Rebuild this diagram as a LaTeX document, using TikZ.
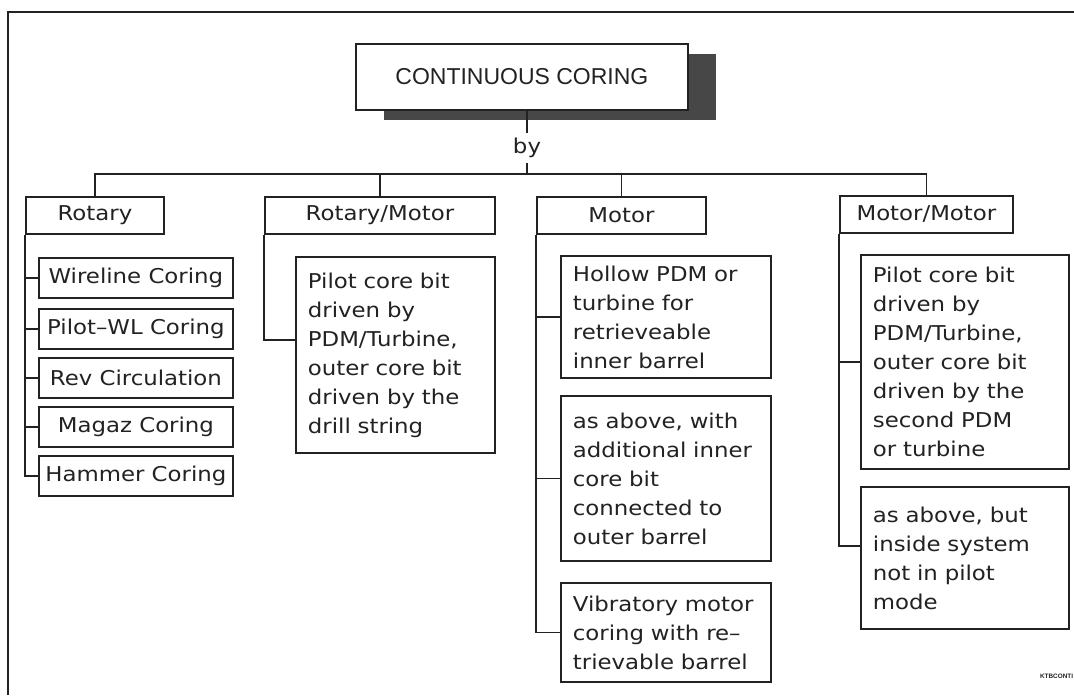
\documentclass[tikz,border=0pt]{standalone}
\usepackage{fontspec}
\setmainfont{Liberation Sans}
\newfontfamily\cadfont[FakeStretch=1.12]{DejaVu Sans}
\usetikzlibrary{shadows}
\definecolor{ink}{HTML}{222222}
\definecolor{shadowgray}{HTML}{474747}
\begin{document}
\begin{tikzpicture}[x=0.5pt,y=-0.5pt,line width=0.9pt,color=ink,
  hdr/.style={draw,fill=white,anchor=north west,minimum height=18.5pt,inner sep=0pt,font=\cadfont\fontsize{10.2}{14.5}\selectfont},
  item/.style={hdr,minimum width=97pt,minimum height=20pt},
  note/.style 2 args={draw,fill=white,anchor=north west,inner xsep=6pt,inner ysep=0pt,align=left,text width=#1,minimum height=#2,font=\cadfont\fontsize{10.2}{14.5}\selectfont}]
\useasboundingbox (0,0) rectangle (1074,695);
\draw (8,695) |- (1074,12);
% top of the tree
\node[draw,fill=white,anchor=north west,minimum width=166pt,minimum height=33pt,font=\fontsize{11.5}{12}\selectfont,
  drop shadow={shadow xshift=14pt,shadow yshift=-5pt,fill=shadowgray,opacity=1}] (title) at (355,43) {CONTINUOUS CORING};
\node[font=\cadfont\fontsize{10.2}{14.5}\selectfont,inner sep=2pt] (by) at (527,148) {by};
\coordinate (bus) at (527,174);
% four methods
\node[hdr,minimum width=69pt] (rot) at (25,196) {Rotary};
\node[hdr,minimum width=115pt] (rm) at (264,196) {Rotary/Motor};
\node[hdr,minimum width=84.5pt] (mot) at (536,196) {Motor};
\node[hdr,minimum width=86.5pt] (mm) at (839,195) {Motor/Motor};
% rotary
\node[item] (wl) at (38,257) {Wireline Coring};
\node[item] (pwl) at (38,308) {Pilot–WL Coring};
\node[item] (rev) at (38,357) {Rev Circulation};
\node[item] (mag) at (38,406) {Magaz Coring};
\node[item] (ham) at (38,455) {Hammer Coring};
% rotary/motor
\node[note={87.5pt}{98pt}] (rmc) at (295,256) {Pilot core bit\\driven by\\PDM/Turbine,\\outer core bit\\driven by the\\drill string};
% motor
\node[note={93pt}{61pt}] (mc1) at (560,255) {Hollow PDM or\\turbine for\\retrieveable\\inner barrel};
\node[note={93pt}{82.5pt}] (mc2) at (560,395) {as above, with\\additional inner\\core bit\\connected to\\outer barrel};
\node[note={93pt}{49.5pt}] (mc3) at (560,582) {Vibratory motor\\coring with re–\\trievable barrel};
% motor/motor
\node[note={92pt}{107pt}] (mmc1) at (860,254) {Pilot core bit\\driven by\\PDM/Turbine,\\outer core bit\\driven by the\\second PDM\\or turbine};
\node[note={92pt}{71pt}] (mmc2) at (860,486) {as above, but\\inside system\\not in pilot\\mode};
\node[anchor=east,inner sep=0pt,font=\bfseries\fontsize{3.2}{4}\selectfont] (tag) at (1074,676) {KTBCONTI};
% connectors
\draw (title.south -| bus) -- (by);
\draw (by) -- (bus);
\draw (rot.north) -- (rot.north |- bus) -- (mm.north |- bus) -- (mm.north);
\draw (rm.north) -- (rm.north |- bus);
\draw (mot.north) -- (mot.north |- bus);
\draw (rot.south west) |- (ham.west);
\foreach \n in {wl,pwl,rev,mag}{\draw (rot.south west |- \n.west) -- (\n.west);}
\draw (rm.south west) |- ([yshift=7.5pt]rmc.west);
\draw (mot.south west) |- (mc3.west);
\foreach \n in {mc1,mc2}{\draw (mot.south west |- \n.west) -- (\n.west);}
\draw (mm.south west) |- ([yshift=6pt]mmc2.west);
\draw (mm.south west |- mmc1.west) -- (mmc1.west);
\end{tikzpicture}
\end{document}
